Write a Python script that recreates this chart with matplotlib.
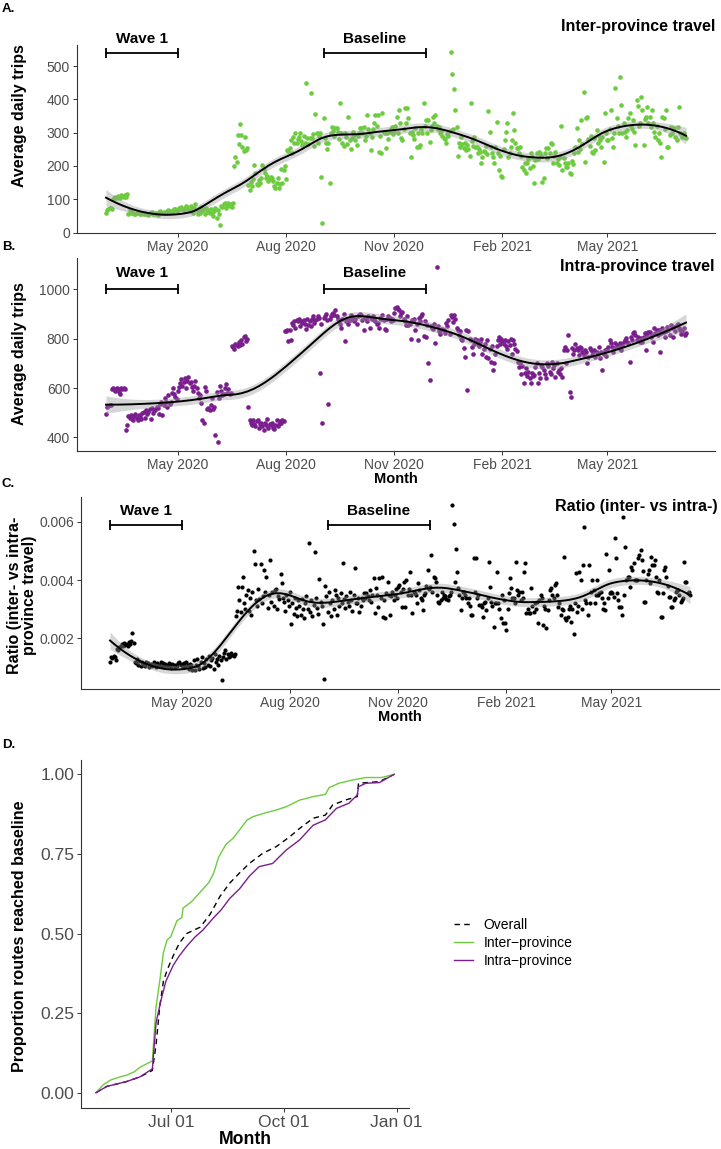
import numpy as np
import pandas as pd
import matplotlib
matplotlib.use("Agg")
import matplotlib.pyplot as plt
import matplotlib.dates as mdates

plt.rcParams["font.family"] = ["Liberation Sans", "DejaVu Sans"]

# ---------------- dados ----------------
start_date = "2020-03-01"   # um valor por dia ate 2021-07-07

# media diaria de viagens inter-provincia (uma linha = duas semanas)
inter_trips = [
    60, 68, 72, 75, 73, 70, 100,   105, 108, 103, 110, 107, 104, 112,
    110, 106, 112, 108, 115, 55, 68,   60, 62, 58, 55, 57, 60, 63,
    58, 55, 57, 60, 56, 59, 55,   57, 54, 60, 58, 62, 56, 55,
    60, 57, 53, 62, 65, 60, 58,   63, 58, 60, 65, 67, 62, 64,
    66, 63, 70, 72, 65, 68, 75,   70, 78, 72, 68, 75, 80, 77,
    72, 65, 80, 70, 60, 75, 85,   68, 55, 70, 60, 78, 65, 72,
    55, 75, 62, 68, 58, 72, 60,   50, 65, 75, 45, 68, 55, 22,
    80, 78, 85, 90, 75, 82, 88,   80, 85, 78, 90, 200, 228, 212,
    293, 265, 325, 292, 258, 246, 288,   248, 253, 143, 128, 153, 140, 160,
    203, 178, 145, 143, 158, 150, 165,   203, 190, 178, 165, 170, 155, 160,
    168, 163, 155, 140, 133, 150, 165,   135, 145, 190, 150, 188, 200, 160,
    248, 245, 255, 278, 240, 288, 270,   298, 268, 280, 288, 298, 275, 262,
    290, 270, 448, 285, 265, 283, 418,   283, 295, 260, 355, 300, 270, 290,
    300, 168, 30, 343, 285, 268, 250,   268, 148, 298, 318, 305, 290, 315,
    313, 303, 280, 388, 298, 270, 260,   298, 288, 265, 348, 278, 250, 283,
    303, 293, 278, 263, 290, 300, 313,   313, 300, 318, 278, 290, 353, 310,
    300, 248, 288, 310, 328, 353, 320,   353, 243, 290, 238, 358, 303, 300,
    253, 300, 280, 303, 310, 318, 295,   305, 320, 348, 300, 368, 330, 283,
    278, 310, 373, 330, 373, 343, 300,   228, 303, 293, 280, 313, 258, 300,
    258, 263, 310, 298, 388, 320, 338,   298, 338, 273, 308, 320, 348, 330,
    353, 320, 310, 318, 298, 305, 290,   285, 280, 270, 295, 290, 305, 541,
    476, 310, 432, 368, 318, 230, 270,   258, 288, 265, 255, 270, 248, 262,
    250, 230, 390, 275, 260, 288, 258,   258, 238, 250, 243, 210, 228, 245,
    243, 260, 235, 365, 303, 258, 240,   228, 208, 258, 333, 240, 188, 230,
    171, 168, 250, 278, 303, 328, 228,   240, 258, 278, 358, 308, 270, 253,
    253, 240, 258, 230, 198, 188, 210,   178, 208, 220, 193, 240, 228, 200,
    148, 218, 238, 220, 243, 238, 230,   153, 163, 238, 253, 225, 253, 240,
    268, 266, 208, 230, 243, 208, 220,   203, 228, 320, 188, 223, 210, 198,
    198, 208, 178, 175, 215, 205, 240,   258, 315, 243, 278, 250, 338, 265,
    423, 213, 343, 348, 280, 260, 290,   243, 238, 283, 248, 308, 270, 290,
    278, 258, 288, 213, 358, 300, 278,   278, 310, 368, 283, 258, 300, 433,
    343, 320, 298, 468, 383, 300, 330,   303, 288, 308, 343, 358, 320, 310,
    338, 303, 263, 398, 380, 320, 330,   406, 368, 263, 340, 348, 378, 330,
    348, 318, 368, 330, 303, 288, 320,   278, 300, 268, 228, 348, 343, 310,
    368, 258, 258, 293, 318, 300, 310,   313, 288, 278, 318, 378, 300, 295,
    288, 298, 288, 283,
]

# media diaria de viagens intra-provincia
intra_trips = [
    495, 522, 528, 533, 530, 598, 600,   595, 590, 600, 598, 585, 575, 602,
    598, 600, 595, 430, 450, 485, 480,   490, 475, 470, 485, 495, 480, 470,
    490, 485, 475, 498, 505, 480, 510,   495, 505, 515, 475, 520, 500, 510,
    510, 525, 520, 495, 535, 545, 490,   530, 560, 545, 525, 570, 535, 545,
    580, 600, 575, 565, 555, 590, 605,   620, 635, 610, 625, 640, 600, 630,
    645, 620, 625, 605, 590, 610, 630,   600, 580, 560, 570, 540, 470, 460,
    605, 590, 515, 520, 510, 530, 560,   515, 525, 410, 585, 380, 560, 610,
    590, 570, 575, 600, 615, 580, 595,   575, 580, 770, 765, 760, 780, 775,
    770, 785, 775, 795, 780, 805, 810,   790, 800, 525, 470, 460, 450, 470,
    455, 445, 465, 470, 440, 455, 460,   445, 430, 460, 450, 475, 440, 455,
    450, 460, 440, 435, 450, 470, 445,   455, 465, 460, 470, 465, 830, 830,
    835, 790, 835, 795, 865, 855, 870,   845, 875, 870, 880, 850, 870, 865,
    875, 860, 840, 880, 855, 870, 850,   880, 890, 865, 875, 880, 890, 885,
    660, 860, 460, 885, 890, 900, 875,   535, 880, 890, 900, 905, 895, 915,
    890, 880, 870, 860, 845, 880, 900,   790, 870, 880, 860, 875, 895, 880,
    885, 870, 880, 860, 890, 895, 900,   895, 875, 835, 885, 880, 870, 890,
    845, 885, 880, 890, 875, 870, 860,   862, 842, 885, 880, 895, 875, 838,
    835, 880, 890, 885, 870, 880, 875,   905, 925, 930, 920, 915, 890, 905,
    910, 880, 870, 855, 890, 855, 860,   800, 875, 870, 880, 835, 860, 795,
    885, 870, 890, 900, 810, 870, 805,   855, 700, 632, 850, 845, 840, 860,
    781, 1092, 850, 830, 820, 835, 840,   835, 825, 862, 850, 876, 820, 896,
    889, 869, 895, 880, 842, 835, 815,   830, 800, 795, 761, 727, 835, 592,
    830, 800, 795, 768, 740, 780, 800,   795, 780, 770, 788, 800, 740, 760,
    780, 727, 795, 720, 760, 707, 770,   673, 700, 740, 770, 795, 808, 780,
    800, 790, 780, 795, 770, 760, 790,   775, 800, 740, 795, 780, 760, 750,
    707, 686, 700, 659, 690, 619, 660,   680, 650, 666, 640, 619, 660, 650,
    652, 686, 700, 619, 660, 640, 693,   686, 673, 659, 640, 700, 690, 665,
    659, 707, 680, 693, 646, 700, 666,   673, 659, 680, 646, 754, 768, 700,
    754, 815, 585, 565, 761, 740, 754,   780, 761, 754, 734, 768, 761, 745,
    734, 754, 745, 700, 727, 761, 754,   734, 745, 754, 727, 747, 740, 768,
    720, 747, 673, 740, 755, 730, 760,   768, 795, 781, 768, 747, 761, 781,
    775, 768, 761, 781, 754, 775, 788,   795, 801, 788, 781, 707, 808, 795,
    822, 828, 815, 795, 808, 800, 788,   801, 788, 808, 822, 754, 815, 828,
    828, 808, 815, 788, 842, 822, 835,   815, 835, 747, 822, 842, 828, 808,
    830, 849, 835, 815, 855, 842, 808,   849, 830, 855, 860, 842, 835, 820,
    830, 845, 815, 825,
]

# razao inter/intra (x 1e-3)
ratio_e3 = [
    1.20, 1.37, 1.31, 1.40, 1.35, 1.25, 1.65,   1.60, 1.70, 1.75, 1.80, 1.72, 1.85, 1.78,
    1.82, 1.75, 1.88, 1.80, 1.90, 2.19, 1.85,   1.20, 1.15, 1.30, 1.10, 1.22, 1.05, 1.18,
    1.08, 1.12, 1.05, 1.20, 1.15, 1.00, 1.10,   1.12, 1.05, 1.18, 1.10, 1.02, 1.15, 1.08,
    1.10, 1.20, 1.05, 1.15, 1.00, 1.12, 1.08,   1.05, 1.15, 1.10, 0.98, 1.12, 1.08, 1.02,
    1.10, 1.05, 1.15, 1.20, 1.08, 1.12, 1.00,   1.15, 1.05, 1.20, 1.10, 0.95, 1.12, 1.08,
    0.92, 1.25, 0.90, 1.10, 1.30, 1.05, 0.95,   1.20, 1.35, 0.98, 1.15, 1.00, 1.28, 1.10,
    1.40, 1.05, 1.25, 1.32, 0.95, 1.45, 1.18,   1.30, 1.10, 1.40, 1.25, 0.57, 1.35, 1.50,
    1.60, 1.30, 1.45, 1.35, 1.40, 1.50, 1.42,   1.38, 1.45, 2.75, 2.95, 3.77, 3.30, 2.90,
    3.75, 4.11, 3.20, 3.00, 3.50, 3.65, 2.95,   3.40, 2.80, 3.60, 5.00, 4.55, 3.30, 3.10,
    3.70, 3.35, 4.55, 3.20, 3.45, 4.34, 3.60,   4.11, 3.05, 3.50, 4.69, 3.25, 3.60, 3.10,
    3.65, 3.70, 3.00, 3.45, 3.35, 4.20, 3.90,   3.40, 3.25, 2.95, 3.50, 3.30, 3.10, 3.60,
    2.50, 3.20, 2.85, 3.40, 3.05, 2.75, 3.30,   3.10, 2.80, 3.35, 3.00, 2.70, 3.20, 3.45,
    3.00, 5.28, 2.90, 3.30, 2.75, 3.15, 4.95,   3.40, 3.05, 2.85, 4.03, 3.25, 3.10, 2.50,
    0.60, 3.80, 3.45, 2.90, 3.60, 3.20, 2.75,   3.30, 3.00, 3.65, 3.50, 2.80, 3.40, 3.10,
    3.55, 3.20, 4.60, 3.35, 3.05, 3.45, 3.25,   3.10, 3.60, 3.30, 2.95, 3.50, 4.40, 3.20,
    3.20, 3.40, 2.91, 3.10, 3.37, 3.30, 3.54,   3.37, 3.54, 3.45, 3.30, 3.66, 3.25, 3.50,
    4.06, 2.86, 3.71, 3.50, 3.09, 4.06, 3.40,   4.11, 2.74, 3.30, 2.69, 3.55, 3.94, 3.50,
    2.80, 3.45, 3.60, 3.30, 3.50, 3.70, 3.40,   3.77, 3.83, 3.60, 3.09, 3.70, 3.94, 3.09,
    4.00, 3.49, 3.70, 4.29, 3.50, 2.86, 3.60,   3.55, 3.50, 3.20, 3.89, 3.66, 3.40, 3.30,
    2.97, 3.49, 3.55, 3.80, 4.34, 3.70, 3.77,   4.86, 3.60, 4.11, 4.06, 3.94, 3.50, 3.26,
    3.20, 3.30, 3.60, 3.40, 3.50, 3.45, 3.35,   3.30, 3.45, 3.50, 3.60, 6.57, 5.94, 3.94,
    5.06, 4.29, 3.71, 3.50, 2.97, 3.37, 3.60,   3.60, 3.50, 3.37, 3.20, 3.40, 3.10, 2.80,
    2.80, 4.74, 3.60, 4.74, 3.37, 3.50, 3.14,   3.14, 3.09, 2.74, 3.20, 3.26, 2.97, 3.40,
    4.63, 3.77, 3.26, 3.10, 2.40, 3.20, 3.20,   4.29, 3.20, 3.00, 2.69, 3.50, 2.51, 3.30,
    2.51, 2.29, 3.00, 3.57, 4.06, 3.71, 3.37,   3.37, 3.20, 4.63, 3.66, 3.50, 3.60, 3.30,
    3.60, 3.40, 4.29, 4.57, 2.86, 3.00, 2.86,   2.86, 3.71, 3.10, 2.91, 3.20, 3.00, 3.25,
    2.51, 3.30, 3.49, 3.37, 2.46, 3.10, 3.00,   2.34, 2.97, 3.30, 3.66, 3.71, 3.50, 3.40,
    3.83, 3.89, 3.49, 3.09, 3.20, 2.80, 3.00,   2.97, 4.80, 2.69, 2.63, 2.74, 3.00, 3.10,
    2.57, 3.00, 2.15, 3.20, 4.23, 2.90, 3.10,   4.29, 4.00, 3.00, 4.51, 5.83, 3.30, 3.20,
    2.80, 4.51, 3.20, 3.60, 4.00, 3.66, 3.20,   3.49, 4.00, 3.49, 3.54, 3.60, 3.37, 3.00,
    3.20, 2.97, 4.91, 3.40, 4.34, 3.54, 3.60,   3.54, 3.43, 5.43, 4.74, 3.54, 3.30, 3.09,
    3.09, 2.80, 6.17, 3.50, 5.14, 4.00, 4.11,   4.11, 3.77, 4.46, 4.34, 4.57, 4.00, 4.00,
    4.00, 4.74, 4.86, 5.03, 4.69, 4.30, 3.26,   3.26, 4.00, 4.20, 4.34, 3.90, 4.80, 4.51,
    4.51, 4.69, 4.10, 3.60, 3.54, 4.00, 2.74,   2.74, 3.54, 4.34, 4.46, 4.11, 3.80, 3.43,
    3.43, 3.09, 3.09, 3.32, 3.40, 3.60, 3.66,   3.66, 3.49, 3.26, 3.30, 3.40, 4.63, 3.94,
    3.94, 3.54, 3.60, 3.50,
]

# periodos marcados
wave1 = ("2020-03-01", "2020-05-01")
baseline = ("2020-09-02", "2020-11-28")

# painel D: proporcao acumulada de rotas que atingiram o baseline
overall_dates = ["2020-05-01", "2020-05-10", "2020-05-26", "2020-06-06", "2020-06-16",
                 "2020-06-19", "2020-06-22", "2020-06-25", "2020-06-28", "2020-07-03",
                 "2020-07-08", "2020-07-14", "2020-07-25", "2020-08-02", "2020-08-10",
                 "2020-08-18", "2020-08-26", "2020-09-03", "2020-09-14", "2020-09-25",
                 "2020-10-06", "2020-10-14", "2020-10-25", "2020-11-04", "2020-11-10",
                 "2020-11-21", "2020-11-30", "2020-12-01", "2020-12-18", "2020-12-30"]
overall_prop = [0.000, 0.020, 0.035, 0.050, 0.070, 0.150, 0.270, 0.350, 0.385, 0.430,
                0.470, 0.500, 0.520, 0.560, 0.616, 0.658, 0.690, 0.720, 0.752, 0.773,
                0.804, 0.830, 0.862, 0.872, 0.904, 0.920, 0.930, 0.972, 0.977, 1.000]

inter_dates = ["2020-05-01", "2020-05-07", "2020-05-13", "2020-05-17", "2020-05-21",
               "2020-05-26", "2020-06-01", "2020-06-06", "2020-06-11", "2020-06-16",
               "2020-06-19", "2020-06-22", "2020-06-25", "2020-06-28", "2020-07-01",
               "2020-07-03", "2020-07-06", "2020-07-10", "2020-07-11", "2020-07-18",
               "2020-07-25", "2020-08-01", "2020-08-05", "2020-08-09", "2020-08-15",
               "2020-08-21", "2020-08-26", "2020-09-01", "2020-09-06", "2020-09-17",
               "2020-09-25", "2020-10-03", "2020-10-14", "2020-10-25", "2020-11-04",
               "2020-11-07", "2020-11-15", "2020-11-26", "2020-12-07", "2020-12-20",
               "2020-12-30"]
inter_prop = [0.000, 0.025, 0.040, 0.045, 0.050, 0.055, 0.065, 0.080, 0.090, 0.100,
              0.270, 0.350, 0.440, 0.480, 0.490, 0.510, 0.540, 0.550, 0.580, 0.600,
              0.630, 0.660, 0.690, 0.740, 0.780, 0.800, 0.825, 0.856, 0.867, 0.880,
              0.888, 0.898, 0.919, 0.930, 0.937, 0.958, 0.972, 0.982, 0.990, 0.990,
              1.000]

intra_dates = ["2020-05-01", "2020-05-10", "2020-05-26", "2020-06-06", "2020-06-16",
               "2020-06-19", "2020-06-23", "2020-06-27", "2020-07-03", "2020-07-08",
               "2020-07-14", "2020-07-21", "2020-07-27", "2020-08-05", "2020-08-11",
               "2020-08-18", "2020-08-26", "2020-09-03", "2020-09-11", "2020-09-22",
               "2020-10-03", "2020-10-14", "2020-10-25", "2020-11-04", "2020-11-13",
               "2020-11-23", "2020-11-30", "2020-12-01", "2020-12-07", "2020-12-18",
               "2020-12-30"]
intra_prop = [0.000, 0.020, 0.035, 0.050, 0.075, 0.220, 0.290, 0.350, 0.400, 0.430,
              0.460, 0.490, 0.510, 0.550, 0.574, 0.610, 0.640, 0.680, 0.710, 0.720,
              0.762, 0.794, 0.840, 0.857, 0.893, 0.909, 0.935, 0.961, 0.972, 0.974,
              1.000]

# ---------------- estilo ----------------
GREEN = "#6CCB3E"
PURPLE = "#7A1E8E"
TICK_GREY = "#4D4D4D"
W, H = 721, 1149


def rect(l, t, r, b):
    return [l / W, 1 - b / H, (r - l) / W, (b - t) / H]


def loess(x, y, xg, span):
    # regressao local quadratica com peso tricubico (como geom_smooth)
    ok = ~np.isnan(y)
    x, y = x[ok], y[ok]
    n = len(x)
    q = int(np.ceil(span * n))

    def hat_row(x0):
        d = np.abs(x - x0)
        h = np.sort(d)[q - 1]
        w = (1 - np.clip(d / h, 0, 1) ** 3) ** 3
        X = np.vstack([np.ones_like(x), x - x0, (x - x0) ** 2]).T
        XtW = X.T * w
        return np.linalg.solve(XtW @ X, XtW)[0]

    L = np.array([hat_row(x0) for x0 in x])
    resid = y - L @ y
    sigma = np.sqrt((resid ** 2).sum() / (n - np.trace(L)))
    Lg = np.array([hat_row(x0) for x0 in xg])
    fit = Lg @ y
    se = sigma * np.sqrt((Lg ** 2).sum(axis=1))
    return fit, se


def style_axis(ax, size=10):
    for s in ["top", "right"]:
        ax.spines[s].set_visible(False)
    for s in ["left", "bottom"]:
        ax.spines[s].set_color("#333333")
        ax.spines[s].set_linewidth(0.8)
    ax.tick_params(length=3, width=0.7, color="#333333", labelcolor=TICK_GREY,
                   labelsize=size, pad=2)


def time_panel(rect_px, values, color, ylim, yticks, ytickfmt, bar_y, text_y,
               span, msize):
    ax = fig.add_axes(rect(*rect_px))
    dates = pd.date_range(start_date, periods=len(values), freq="D")
    vals = np.array(values, dtype=float)
    x = mdates.date2num(dates)
    ax.scatter(dates, vals, s=msize, color=color, linewidths=0, zorder=2)

    xg = np.linspace(x[0], x[-1], 300)
    fit, se = loess(x - x[0], vals, xg - x[0], span)
    ax.fill_between(mdates.num2date(xg), fit - 1.96 * se, fit + 1.96 * se,
                    color="#999999", alpha=0.4, linewidth=0, zorder=3)
    ax.plot(mdates.num2date(xg), fit, color="black", lw=1.4, zorder=4)

    for (a, b), lab in [(wave1, "Wave 1"), (baseline, "Baseline")]:
        d0, d1 = pd.Timestamp(a), pd.Timestamp(b)
        ax.plot([d0, d1], [bar_y, bar_y], color="black", lw=1.3, zorder=5,
                clip_on=False)
        ax.plot([d0, d1], [bar_y, bar_y], ls="none", marker="|", ms=7,
                mew=1.3, color="black", zorder=5, clip_on=False)
        ax.text(d0 + (d1 - d0) / 2, text_y, lab, ha="center", va="center",
                fontsize=11, fontweight="bold", clip_on=False)

    x0 = pd.Timestamp(start_date)
    span_days = len(values) - 1
    ax.set_xlim(x0 - pd.Timedelta(days=0.05 * span_days),
                x0 + pd.Timedelta(days=1.05 * span_days))
    ax.set_ylim(*ylim)
    ax.set_yticks(yticks)
    ax.set_yticklabels([ytickfmt.format(v) for v in yticks])
    ax.xaxis.set_major_locator(mdates.MonthLocator(bymonth=[2, 5, 8, 11]))
    ax.xaxis.set_major_formatter(mdates.DateFormatter("%b %Y"))
    style_axis(ax)
    return ax


fig = plt.figure(figsize=(W / 100, H / 100), dpi=100)

# ---------------- A ----------------
axA = time_panel((77, 45, 715, 233), inter_trips, GREEN, (-1, 563),
                 [0, 100, 200, 300, 400, 500], "{:.0f}", 538, 580, 0.3, 11)
# ---------------- B ----------------
axB = time_panel((77, 258, 715, 451), intra_trips, PURPLE, (345, 1127),
                 [400, 600, 800, 1000], "{:.0f}", 1000, 1066, 0.42, 11)
axB.set_xlabel("Month", fontsize=10.5, fontweight="bold", labelpad=0)
# ---------------- C ----------------
ratio = [v / 1000 for v in ratio_e3]
axC = time_panel((81, 497, 719, 689), ratio, "black", (0.00026, 0.00685),
                 [0.002, 0.004, 0.006], "{:.3f}", 0.00589, 0.00638, 0.3, 9)
axC.set_xlabel("Month", fontsize=10.5, fontweight="bold", labelpad=0)

# ---------------- D ----------------
axD = fig.add_axes(rect(81, 760, 409, 1108))
axD.plot(pd.to_datetime(overall_dates), overall_prop, color="black", lw=1.0,
         dashes=(4, 3), label="Overall")
axD.plot(pd.to_datetime(inter_dates), inter_prop, color=GREEN, lw=1.0,
         label="Inter\u2212province")
axD.plot(pd.to_datetime(intra_dates), intra_prop, color=PURPLE, lw=1.0,
         label="Intra\u2212province")
d0, d1 = pd.Timestamp("2020-05-01"), pd.Timestamp("2020-12-30")
pad = (d1 - d0) * 0.05
axD.set_xlim(d0 - pad, d1 + pad)
axD.set_ylim(-0.048, 1.045)
axD.set_yticks([0, 0.25, 0.5, 0.75, 1.0])
axD.set_yticklabels(["0.00", "0.25", "0.50", "0.75", "1.00"])
axD.xaxis.set_major_locator(mdates.MonthLocator(bymonth=[1, 7, 10]))
axD.xaxis.set_major_formatter(mdates.DateFormatter("%b %d"))
style_axis(axD, size=12.6)
axD.set_xlabel("Month", fontsize=12.7, fontweight="bold", labelpad=1)
axD.legend(loc="center left", bbox_to_anchor=(442 / W, 1 - 943 / H),
           bbox_transform=fig.transFigure, frameon=False, fontsize=10,
           handlelength=1.3, handletextpad=0.8, labelspacing=0.3)

# ---------------- textos ----------------
def ftext(x, y, s, **kw):
    fig.text(x / W, 1 - y / H, s, **kw)

ftext(2, 9, "A.", fontsize=9.5, fontweight="bold", va="center")
ftext(2, 247, "B.", fontsize=9.5, fontweight="bold", va="center")
ftext(2, 484, "C.", fontsize=9.5, fontweight="bold", va="center")
ftext(2, 745, "D.", fontsize=9.5, fontweight="bold", va="center")

ftext(715, 27, "Inter-province travel", fontsize=11.5, fontweight="bold",
      ha="right", va="center")
ftext(715, 267, "Intra-province travel", fontsize=11.5, fontweight="bold",
      ha="right", va="center")
ftext(718, 507, "Ratio (inter- vs intra-)", fontsize=11.5, fontweight="bold",
      ha="right", va="center")

ftext(20, 116, "Average daily trips", fontsize=11.5, fontweight="bold",
      rotation=90, ha="center", va="center")
ftext(20, 354, "Average daily trips", fontsize=11.5, fontweight="bold",
      rotation=90, ha="center", va="center")
ftext(22, 595, "Ratio (inter- vs intra-\nprovince travel)", fontsize=11.5,
      fontweight="bold", rotation=90, ha="center", va="center",
      multialignment="center", linespacing=1.0)
ftext(20, 936, "Proportion routes reached baseline", fontsize=11.6,
      fontweight="bold", rotation=90, ha="center", va="center")

fig.savefig("out.png", dpi=100)
